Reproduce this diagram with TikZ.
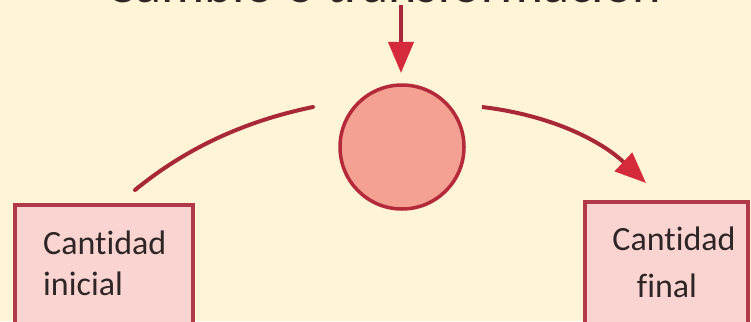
\documentclass[tikz,border=0pt]{standalone}
\usepackage{fontspec}
\setmainfont{Carlito}[Ligatures=NoCommon]
\usetikzlibrary{arrows.meta}
\definecolor{bgc}{HTML}{FFF4D6}
\definecolor{circfill}{HTML}{F4A193}
\definecolor{circline}{HTML}{B52A3A}
\definecolor{boxfill}{HTML}{FAD4D0}
\definecolor{boxline}{HTML}{B03A4A}
\definecolor{conn}{HTML}{A82838}
\definecolor{headc}{HTML}{D42A3C}
\definecolor{txt}{HTML}{2E2626}
\tikzset{
  qbox/.style={draw=boxline, fill=boxfill, line width=4pt, rectangle, inner sep=0pt, anchor=north west},
  qtext/.style={text=txt, font=\fontsize{34}{41}\selectfont, inner sep=0pt},
  conline/.style={draw=conn, line width=4pt},
  conarrow/.style={conline, -{Triangle[length=31pt,width=25pt,color=headc]}},
}
\begin{document}
\begin{tikzpicture}[x=1pt,y=-1pt]
\useasboundingbox (0,0) rectangle (751,321);
\clip (0,0) rectangle (751,321);
\fill[bgc] (0,0) rectangle (751,321);
% title
\node[text=txt, font=\fontsize{54}{60}\selectfont, anchor=base, inner sep=0pt] (title) at (384,3) {Cambio o transformación};
% circle
\node[circle, draw=circline, fill=circfill, line width=3.5pt, minimum size=124pt, inner sep=0pt] (proc) at (402,147) {};
% boxes
\node[qbox, minimum width=178pt, minimum height=160pt] (ini) at (13,203) {};
\node[qbox, minimum width=163pt, minimum height=160pt] (fin) at (583,200) {};
% texts
\node[qtext, anchor=base west] (ini1) at (43,254) {Cantidad};
\node[qtext, anchor=base west] (ini2) at (43,295) {inicial};
\node[qtext, anchor=base] (fin1) at (674,250) {Cantidad};
\node[qtext, anchor=base] (fin2) at (667,297) {final};
% connector coordinates
\coordinate (tstart) at (401,5);
\coordinate (tend) at (401,73);
\coordinate (lstart) at (135,190);
\coordinate (lend) at (313,107);
\coordinate (rstart) at (482,107);
\coordinate (rend) at (646,183);
% connectors
\draw[conarrow] (tstart) -- (tend);
\draw[conline, line cap=round] (lstart) .. controls (190,145) and (250,120) .. (lend);
\draw[conarrow] (rstart) .. controls (550,115) and (600,140) .. (rend);
\end{tikzpicture}
\end{document}
